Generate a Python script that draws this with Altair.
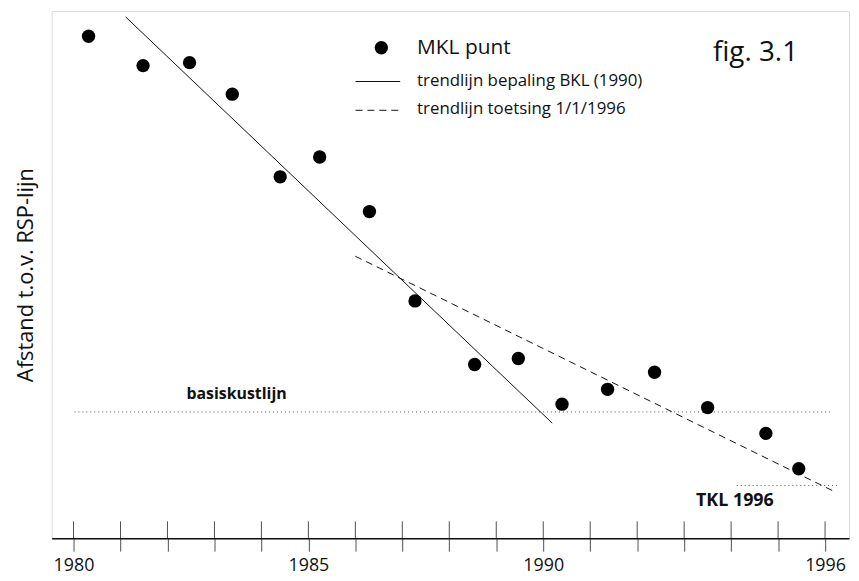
import altair as alt
import pandas as pd

# MKL points (year, distance to RSP line)
mkl_year = [1980.32, 1981.48, 1982.47, 1983.38, 1984.40, 1985.24, 1986.30, 1987.27,
            1988.54, 1989.47, 1990.40, 1991.37, 1992.37, 1993.50, 1994.74, 1995.44]
mkl_dist = [126.4, 119.0, 119.75, 111.8, 91.0, 96.0, 82.25, 59.75,
            43.75, 45.25, 33.75, 37.5, 41.8, 32.9, 26.4, 17.5]

# trend lines
bkl_trend_year = [1981.11, 1990.19]
bkl_trend_dist = [131.25, 29.0]
toets_trend_year = [1986.00, 1996.19]
toets_trend_dist = [71.0, 11.8]

# basiskustlijn and TKL levels
bkl_year = [1980.02, 1996.15]
bkl_dist = [31.8, 31.8]
tkl_year = [1994.12, 1996.26]
tkl_dist = [13.3, 13.3]

tick_years = list(range(1980, 1997))
label_years = [1980, 1985, 1990, 1996]

FONT = "Open Sans"
W, H = 803, 531
xdom = [1979.535, 1996.51]
ydom = [0, 132.75]

xs = alt.Scale(domain=xdom, nice=False, zero=False)
ys = alt.Scale(domain=ydom, nice=False, zero=False)

label_expr = ("indexof([" + ",".join(str(v) for v in label_years) +
              "], datum.value) >= 0 ? format(datum.value, 'd') : ''")

pts = pd.DataFrame({"jaar": mkl_year, "afstand": mkl_dist})
base_x = alt.X("jaar:Q", scale=xs,
               axis=alt.Axis(values=tick_years, labelExpr=label_expr, title=None,
                             grid=False, tickSize=13, tickColor="#222", tickWidth=0.8,
                             domainColor="#111", domainWidth=1.3, labelFontSize=18,
                             labelFont=FONT, labelColor="#111", labelPadding=5,
                             labelFlush=False, labelOverlap=False))
base_y = alt.Y("afstand:Q", scale=ys,
               axis=alt.Axis(labels=False, ticks=False, grid=False, domain=False,
                             title="Afstand t.o.v. RSP-lijn", titleFont=FONT,
                             titleFontSize=22, titleFontWeight="normal",
                             titleColor="#111", titlePadding=14))

points = alt.Chart(pts).mark_point(filled=True, color="black", size=180, opacity=1).encode(
    x=base_x, y=base_y)


def line_df(xv, yv):
    return pd.DataFrame({"jaar": xv, "afstand": yv})


def enc(ch):
    return ch.encode(x=alt.X("jaar:Q", scale=xs), y=alt.Y("afstand:Q", scale=ys))


trend1 = enc(alt.Chart(line_df(bkl_trend_year, bkl_trend_dist)).mark_line(
    color="#111", strokeWidth=1))
trend2 = enc(alt.Chart(line_df(toets_trend_year, toets_trend_dist)).mark_line(
    color="#111", strokeWidth=1, strokeDash=[7, 5]))
bkl = enc(alt.Chart(line_df(bkl_year, bkl_dist)).mark_line(
    color="#555", strokeWidth=1, strokeDash=[1, 3]))
tkl = enc(alt.Chart(line_df(tkl_year, tkl_dist)).mark_line(
    color="#555", strokeWidth=1, strokeDash=[1, 3]))

# upward part of the tick marks (crossing the axis)
ticks_up = alt.Chart(pd.DataFrame({"jaar": tick_years})).mark_rule(
    color="#222", strokeWidth=0.8).encode(
    x=alt.X("jaar:Q", scale=xs), y=alt.value(H - 17), y2=alt.value(H))

labels = pd.DataFrame({
    "jaar": [1983.47, 1994.08],
    "afstand": [35.0, 8.0],
    "tekst": ["basiskustlijn", "TKL 1996"],
    "fs": [16, 18],
})
txt = alt.Chart(labels).mark_text(font=FONT, fontWeight="bold", color="#111",
                                  baseline="alphabetic").encode(
    x=alt.X("jaar:Q", scale=xs), y=alt.Y("afstand:Q", scale=ys), text="tekst:N",
    size=alt.Size("fs:Q", scale=None, legend=None))

one = pd.DataFrame({"a": [0]})
# legend
leg_pt = alt.Chart(one).mark_point(
    filled=True, color="black", size=180, opacity=1).encode(x=alt.value(332), y=alt.value(37))
leg_t1 = alt.Chart(one).mark_text(
    text="MKL punt", font=FONT, fontSize=21, align="left", baseline="alphabetic",
    color="#111").encode(x=alt.value(368), y=alt.value(43))
leg_l1 = alt.Chart(one).mark_rule(color="#111", strokeWidth=1).encode(
    x=alt.value(306), x2=alt.value(351), y=alt.value(71))
leg_t2 = alt.Chart(one).mark_text(
    text="trendlijn bepaling BKL (1990)", font=FONT, fontSize=17, align="left",
    baseline="alphabetic", color="#111").encode(x=alt.value(368), y=alt.value(76))
leg_l2 = alt.Chart(one).mark_rule(
    color="#111", strokeWidth=1, strokeDash=[7, 5]).encode(
    x=alt.value(306), x2=alt.value(351), y=alt.value(100))
leg_t3 = alt.Chart(one).mark_text(
    text="trendlijn toetsing 1/1/1996", font=FONT, fontSize=17, align="left",
    baseline="alphabetic", color="#111").encode(x=alt.value(368), y=alt.value(104))
fig = alt.Chart(one).mark_text(
    text="fig. 3.1", font=FONT, fontSize=28, align="left",
    baseline="alphabetic", color="#111").encode(x=alt.value(666), y=alt.value(50))

chart = alt.layer(
    bkl, tkl, trend1, trend2, ticks_up, points, txt,
    leg_pt, leg_t1, leg_l1, leg_t2, leg_l2, leg_t3, fig,
).properties(
    width=W, height=H,
    autosize=alt.AutoSizeParams(type="none"),
    padding={"left": 44, "top": 1, "right": 2, "bottom": 37},
).configure_view(stroke="#111", strokeWidth=1.3).configure(background="white")

chart.save("out.html", embed_options={"renderer": "svg", "actions": False})
